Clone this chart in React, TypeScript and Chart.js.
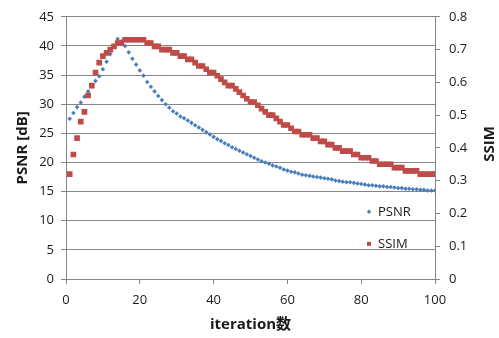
import React, { useEffect, useRef } from 'react';
import { Chart, registerables } from 'chart.js';

Chart.register(...registerables);

const iterations = [
  1, 2, 3, 4, 5, 6, 7, 8, 9, 10,
  11, 12, 13, 14, 15, 16, 17, 18, 19, 20,
  21, 22, 23, 24, 25, 26, 27, 28, 29, 30,
  31, 32, 33, 34, 35, 36, 37, 38, 39, 40,
  41, 42, 43, 44, 45, 46, 47, 48, 49, 50,
  51, 52, 53, 54, 55, 56, 57, 58, 59, 60,
  61, 62, 63, 64, 65, 66, 67, 68, 69, 70,
  71, 72, 73, 74, 75, 76, 77, 78, 79, 80,
  81, 82, 83, 84, 85, 86, 87, 88, 89, 90,
  91, 92, 93, 94, 95, 96, 97, 98, 99, 100,
];

const psnr = [
  27.5, 28.5, 29.5, 30.3, 31.3, 32.2, 33.1, 34.0, 34.8, 36.0,
  37.3, 38.6, 39.9, 41.2, 40.8, 40.0, 38.9, 37.8, 36.8, 35.8,
  34.9, 33.8, 33.0, 32.2, 31.4, 30.7, 30.0, 29.4, 28.8, 28.4,
  27.9, 27.6, 27.2, 26.8, 26.4, 26.0, 25.6, 25.2, 24.8, 24.4,
  24.0, 23.7, 23.3, 23.0, 22.6, 22.3, 22.0, 21.7, 21.4, 21.1,
  20.8, 20.5, 20.2, 20.0, 19.8, 19.5, 19.3, 19.1, 18.8, 18.6,
  18.4, 18.3, 18.1, 17.9, 17.8, 17.7, 17.6, 17.5, 17.4, 17.3,
  17.2, 17.1, 16.9, 16.8, 16.7, 16.6, 16.6, 16.5, 16.4, 16.3,
  16.2, 16.1, 16.1, 16.0, 15.9, 15.9, 15.8, 15.8, 15.7, 15.6,
  15.6, 15.5, 15.5, 15.4, 15.4, 15.3, 15.3, 15.2, 15.2, 15.2,
];

const ssim = [
  0.32, 0.38, 0.43, 0.48, 0.51, 0.56, 0.59, 0.63, 0.66, 0.68,
  0.69, 0.70, 0.71, 0.72, 0.72, 0.73, 0.73, 0.73, 0.73, 0.73,
  0.73, 0.72, 0.72, 0.71, 0.71, 0.70, 0.70, 0.70, 0.69, 0.69,
  0.68, 0.68, 0.67, 0.67, 0.66, 0.65, 0.65, 0.64, 0.63, 0.63,
  0.62, 0.61, 0.60, 0.59, 0.59, 0.58, 0.57, 0.56, 0.55, 0.54,
  0.54, 0.53, 0.52, 0.51, 0.50, 0.50, 0.49, 0.48, 0.47, 0.47,
  0.46, 0.45, 0.45, 0.44, 0.44, 0.44, 0.43, 0.43, 0.42, 0.42,
  0.41, 0.41, 0.40, 0.40, 0.39, 0.39, 0.39, 0.38, 0.38, 0.37,
  0.37, 0.37, 0.36, 0.36, 0.35, 0.35, 0.35, 0.35, 0.34, 0.34,
  0.34, 0.33, 0.33, 0.33, 0.33, 0.32, 0.32, 0.32, 0.32, 0.32,
];

const seriesNames = ['PSNR', 'SSIM'];
const xTitle = 'iteration数';
const yLeftTitle = 'PSNR [dB]';
const yRightTitle = 'SSIM';

const FONT = "'Open Sans', 'Noto Sans CJK JP', sans-serif";
const TEXT = '#1a1a1a';
const GRID = '#868686';
const BLUE = '#4A7EBB';
const RED = '#BE4B48';

const overlayPlugin = {
  id: 'overlay',
  afterDraw(chart: any) {
    const { ctx, chartArea } = chart;
    ctx.save();
    ctx.font = `bold 15px ${FONT}`;
    ctx.fillStyle = TEXT;
    ctx.textAlign = 'center';
    ctx.textBaseline = 'middle';
    ctx.translate(490, (chartArea.top + chartArea.bottom) / 2 - 4);
    ctx.rotate(-Math.PI / 2);
    ctx.fillText(yRightTitle, 0, 0);
    ctx.restore();

    ctx.save();
    const lx = chartArea.right - 66;
    const ly = chartArea.top + 195;
    chart.data.datasets.forEach((ds: any, i: number) => {
      const y = ly + i * 32;
      ctx.fillStyle = ds.backgroundColor;
      if (ds.pointStyle === 'rectRot') {
        ctx.beginPath();
        ctx.moveTo(lx, y - 2.2);
        ctx.lineTo(lx + 2.2, y);
        ctx.lineTo(lx, y + 2.2);
        ctx.lineTo(lx - 2.2, y);
        ctx.closePath();
        ctx.fill();
      } else {
        ctx.fillRect(lx - 2, y - 2, 4, 4);
      }
      ctx.fillStyle = TEXT;
      ctx.font = `13px ${FONT}`;
      ctx.textAlign = 'left';
      ctx.textBaseline = 'middle';
      ctx.fillText(ds.label, lx + 9, y);
    });
    ctx.restore();
  },
};

export default function App() {
  const ref = useRef<HTMLCanvasElement | null>(null);

  useEffect(() => {
    if (!ref.current) return;
    const chart = new Chart(ref.current, {
      type: 'scatter',
      data: {
        datasets: [
          {
            label: seriesNames[0],
            data: iterations.map((x, i) => ({ x, y: psnr[i] })),
            yAxisID: 'y',
            pointStyle: 'rectRot',
            pointRadius: 2.3,
            backgroundColor: BLUE,
            borderWidth: 0,
            order: 1,
          },
          {
            label: seriesNames[1],
            data: iterations.map((x, i) => ({ x, y: ssim[i] })),
            yAxisID: 'y1',
            pointStyle: 'rect',
            pointRadius: 4,
            backgroundColor: RED,
            borderWidth: 0,
            order: 0,
          },
        ],
      },
      options: {
        animation: false,
        responsive: false,
        layout: { padding: { top: 12, left: 0, right: 0, bottom: 0 } },
        plugins: {
          legend: { display: false },
          tooltip: { enabled: false },
        },
        scales: {
          x: {
            type: 'linear',
            min: 0,
            max: 100,
            ticks: { stepSize: 20, font: { family: FONT, size: 13 }, color: TEXT, padding: 8 },
            grid: { drawOnChartArea: false, drawTicks: true, tickLength: 5, color: GRID },
            border: { color: GRID },
            title: {
              display: true,
              text: xTitle,
              font: { family: FONT, size: 15, weight: 'bold' },
              color: TEXT,
              padding: { top: 0, bottom: 4 },
            },
            afterFit: (s: any) => { s.height = 59; },
          },
          y: {
            type: 'linear',
            position: 'left',
            min: 0,
            max: 45,
            ticks: { stepSize: 5, font: { family: FONT, size: 13 }, color: TEXT, padding: 7 },
            grid: { color: GRID, tickLength: 5 },
            border: { color: GRID },
            title: {
              display: true,
              text: yLeftTitle,
              font: { family: FONT, size: 15, weight: 'bold' },
              color: TEXT,
              padding: { top: 14, bottom: 0 },
            },
            afterFit: (s: any) => { s.width = 66; },
          },
          y1: {
            type: 'linear',
            position: 'right',
            min: 0,
            max: 0.8,
            ticks: {
              stepSize: 0.1,
              font: { family: FONT, size: 13 },
              color: TEXT,
              padding: 9,
              callback: (v: any) => (v === 0 ? '0' : Number(v).toFixed(1)),
            },
            grid: { drawOnChartArea: false, tickLength: 5, color: GRID },
            border: { color: GRID },
            afterFit: (s: any) => { s.width = 64; },
          },
        },
      },
      plugins: [overlayPlugin],
    } as any);
    return () => chart.destroy();
  }, []);

  return (
    <div style={{ position: 'fixed', left: 0, top: 0, width: 499, height: 338, background: '#fff' }}>
      <canvas ref={ref} width={499} height={338} />
    </div>
  );
}
